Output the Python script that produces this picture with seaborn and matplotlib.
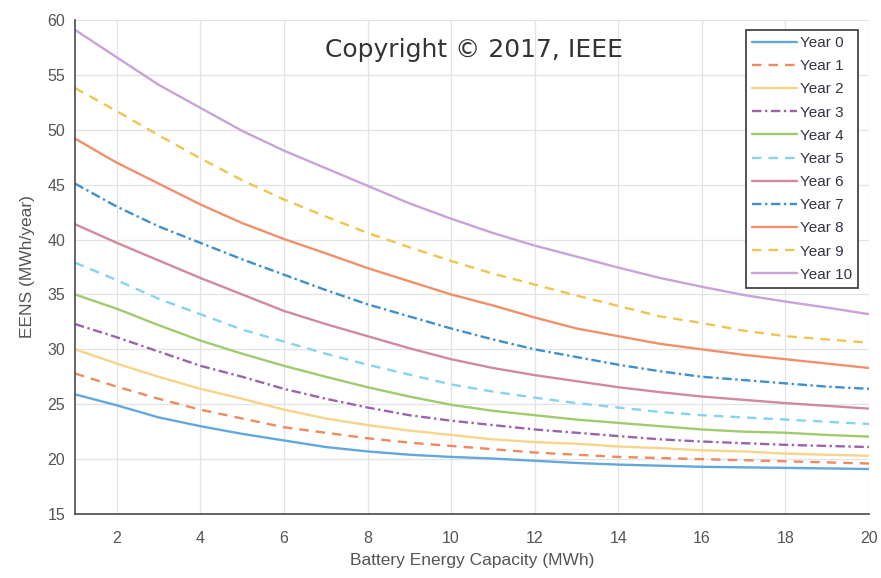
import matplotlib
matplotlib.use("Agg")
import matplotlib.pyplot as plt
from matplotlib.lines import Line2D
import numpy as np
import pandas as pd
import seaborn as sns

# Battery energy capacity (MWh)
capacity = list(range(1, 21))

# Expected energy not served (MWh/year) for each planning year
year_0 = [25.9, 24.9, 23.8, 23.0, 22.3, 21.7, 21.1, 20.7, 20.4, 20.2,
          20.05, 19.85, 19.65, 19.5, 19.4, 19.3, 19.25, 19.2, 19.15, 19.1]
year_1 = [27.8, 26.6, 25.5, 24.5, 23.7, 22.9, 22.4, 21.9, 21.5, 21.2,
          20.9, 20.6, 20.4, 20.2, 20.1, 20.0, 19.9, 19.8, 19.7, 19.6]
year_2 = [30.0, 28.7, 27.5, 26.4, 25.5, 24.5, 23.7, 23.1, 22.6, 22.2,
          21.8, 21.55, 21.4, 21.15, 21.0, 20.8, 20.7, 20.5, 20.4, 20.3]
year_3 = [32.3, 31.1, 29.8, 28.5, 27.5, 26.4, 25.5, 24.7, 24.0, 23.5,
          23.1, 22.7, 22.4, 22.1, 21.8, 21.6, 21.45, 21.3, 21.2, 21.1]
year_4 = [35.0, 33.7, 32.2, 30.8, 29.6, 28.5, 27.5, 26.55, 25.7, 24.95,
          24.4, 24.0, 23.6, 23.3, 23.0, 22.7, 22.5, 22.4, 22.2, 22.05]
year_5 = [37.9, 36.3, 34.6, 33.2, 31.8, 30.7, 29.6, 28.6, 27.7, 26.8,
          26.15, 25.6, 25.1, 24.7, 24.3, 24.0, 23.8, 23.6, 23.4, 23.2]
year_6 = [41.4, 39.7, 38.1, 36.5, 35.0, 33.5, 32.3, 31.2, 30.1, 29.1,
          28.3, 27.65, 27.1, 26.55, 26.1, 25.7, 25.4, 25.1, 24.85, 24.6]
year_7 = [45.1, 43.0, 41.2, 39.7, 38.2, 36.8, 35.4, 34.1, 33.0, 31.9,
          30.9, 30.0, 29.3, 28.6, 28.0, 27.5, 27.2, 26.9, 26.6, 26.4]
year_8 = [49.2, 47.0, 45.1, 43.2, 41.5, 40.05, 38.75, 37.4, 36.2, 35.0,
          34.0, 32.9, 31.9, 31.2, 30.5, 30.0, 29.5, 29.1, 28.7, 28.3]
year_9 = [53.8, 51.7, 49.5, 47.4, 45.4, 43.65, 42.1, 40.6, 39.3, 38.05,
          36.9, 35.9, 34.9, 33.95, 33.0, 32.4, 31.7, 31.2, 30.9, 30.6]
year_10 = [59.1, 56.6, 54.1, 52.0, 49.9, 48.1, 46.5, 44.9, 43.3, 41.9,
           40.6, 39.45, 38.45, 37.45, 36.5, 35.7, 34.95, 34.35, 33.8, 33.2]

year_labels = ["Year 0", "Year 1", "Year 2", "Year 3", "Year 4", "Year 5",
               "Year 6", "Year 7", "Year 8", "Year 9", "Year 10"]
series = [year_0, year_1, year_2, year_3, year_4, year_5,
          year_6, year_7, year_8, year_9, year_10]

x_ticks = [2, 4, 6, 8, 10, 12, 14, 16, 18, 20]
y_ticks = [15, 20, 25, 30, 35, 40, 45, 50, 55, 60]

df = pd.DataFrame({
    "capacity": np.tile(capacity, len(series)),
    "eens": np.concatenate(series),
    "year": np.repeat(year_labels, len(capacity)),
})

palette = {
    "Year 0": "#62a8dc", "Year 1": "#ee8a5e", "Year 2": "#f6d48a",
    "Year 3": "#9b63ad", "Year 4": "#9fca6e", "Year 5": "#86d2f2",
    "Year 6": "#d08a9c", "Year 7": "#3f8fce", "Year 8": "#f0906a",
    "Year 9": "#f0c450", "Year 10": "#c8a2d8",
}
dash = (4, 3)
dashdot = (4, 1.5, 1, 1.5)
dashes = {
    "Year 0": "", "Year 1": dash, "Year 2": "", "Year 3": dashdot,
    "Year 4": "", "Year 5": dash, "Year 6": "", "Year 7": dashdot,
    "Year 8": "", "Year 9": dash, "Year 10": "",
}

sns.set_style("white")
plt.rcParams["font.family"] = ["Liberation Sans", "DejaVu Sans"]

fig = plt.figure(figsize=(8.81, 5.78), dpi=100)
ax = fig.add_axes([75 / 881, 1 - 514 / 578, 794 / 881, 494 / 578])

sns.lineplot(data=df, x="capacity", y="eens", hue="year", style="year",
             hue_order=year_labels, style_order=year_labels,
             palette=palette, dashes=dashes, linewidth=1.7,
             errorbar=None, legend=False, ax=ax)

ax.set_xlim(1, 20)
ax.set_ylim(15, 60)
ax.set_xticks(x_ticks)
ax.set_yticks(y_ticks)
ax.grid(True, color="#e3e3e3", linewidth=0.9)
ax.set_axisbelow(True)

for side in ("top", "right"):
    ax.spines[side].set_visible(False)
for side in ("left", "bottom"):
    ax.spines[side].set_color("#4a4a4a")
    ax.spines[side].set_linewidth(1.2)

ax.tick_params(axis="both", direction="in", length=4, width=1,
               color="#4a4a4a", labelsize=11.5, labelcolor="#555555", pad=7)
ax.tick_params(axis="x", pad=12)

ax.set_xlabel("Battery Energy Capacity (MWh)", fontsize=12.5,
              color="#555555", labelpad=5)
ax.set_ylabel("EENS (MWh/year)", fontsize=12.5, color="#555555", labelpad=9)

handles = [Line2D([0], [0], color=palette[y], linewidth=1.7,
                  dashes=dashes[y] if dashes[y] else (None, None))
           for y in year_labels]
leg = ax.legend(handles, year_labels, loc="upper right",
                bbox_to_anchor=(783 / 794, 484 / 494), borderaxespad=0,
                fontsize=11, labelspacing=0.6, handlelength=3.0,
                handletextpad=0.15, borderpad=0.4, fancybox=False,
                framealpha=1, edgecolor="#444444", labelcolor="#333344")
leg.get_frame().set_linewidth(1.3)

fig.text(474 / 881, 1 - 50 / 578, "Copyright \u00a9 2017, IEEE",
         ha="center", va="center", fontsize=18, color="#333333",
         family="DejaVu Sans")

fig.savefig("out.png", dpi=100)
